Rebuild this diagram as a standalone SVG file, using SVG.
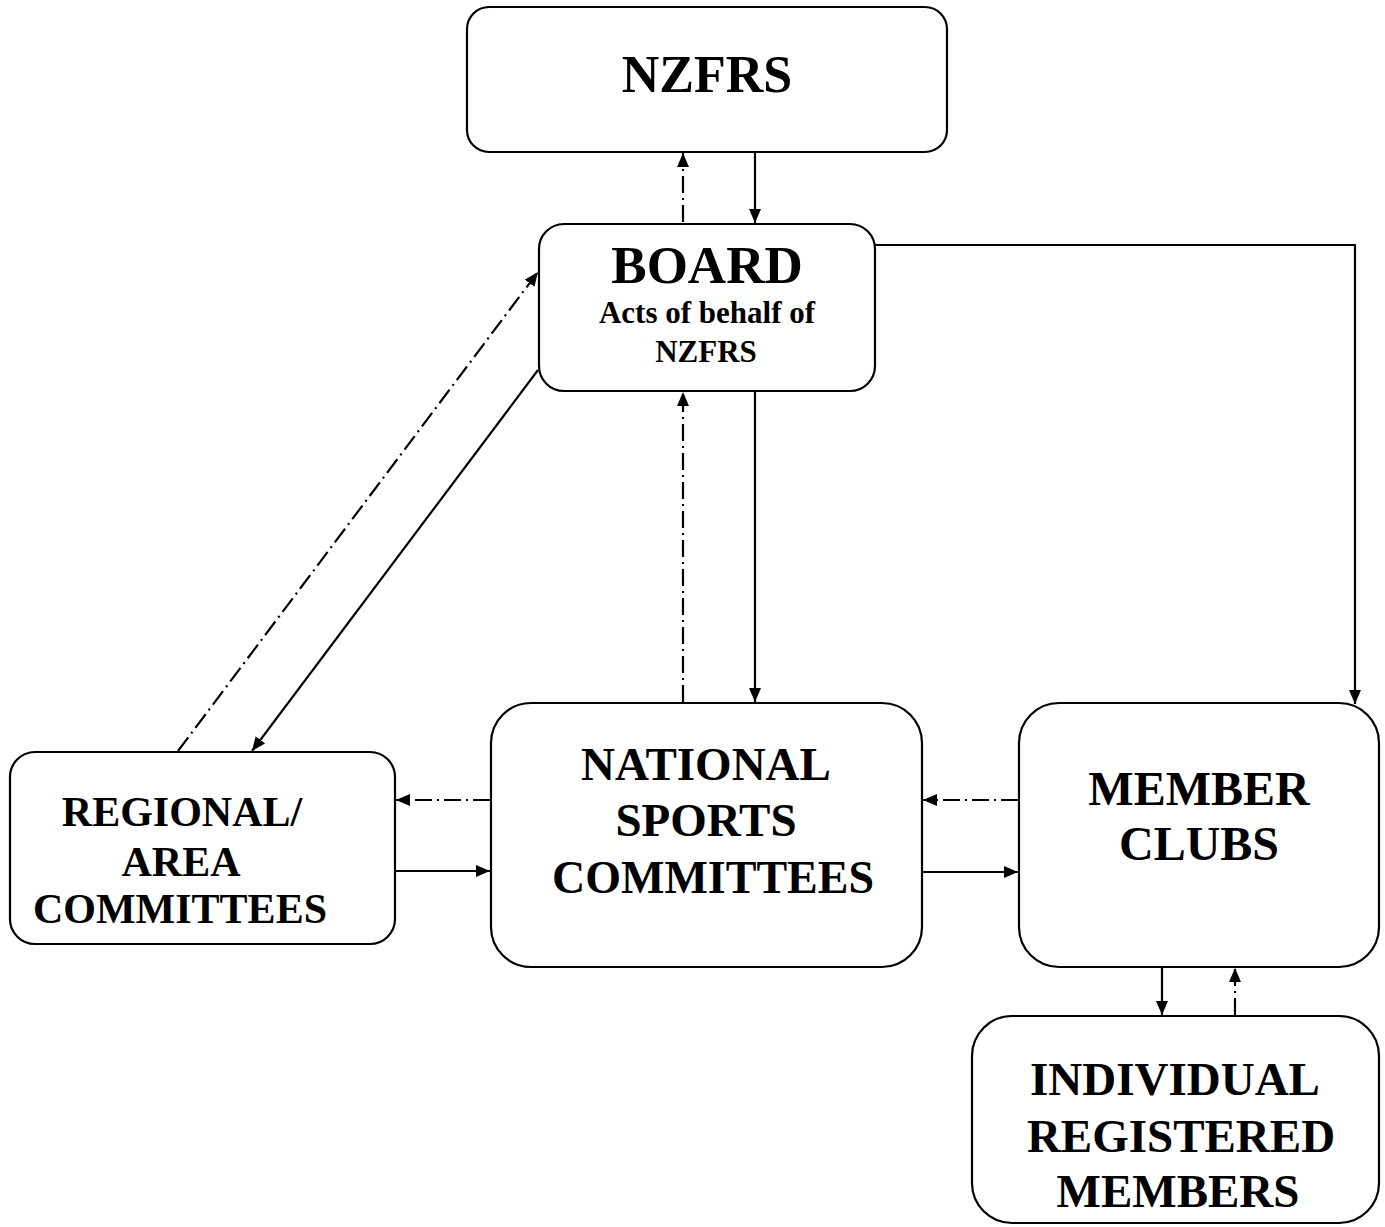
<svg xmlns="http://www.w3.org/2000/svg" width="1385" height="1227" viewBox="0 0 1385 1227">
<style>
.box{fill:#fff;stroke:#000;stroke-width:2.2}
.t{font-family:"Liberation Serif","Times New Roman",serif;font-weight:bold;fill:#000;text-anchor:middle}
.ln{fill:none;stroke:#000;stroke-width:2.2}
.dd{fill:none;stroke:#000;stroke-width:2.2;stroke-dasharray:17,5,2,5}
</style>
<defs>
<marker id="ah" markerUnits="userSpaceOnUse" markerWidth="14" markerHeight="12" viewBox="0 0 14 12" refX="14" refY="6" orient="auto">
<path d="M0,0 L14,6 L0,12 Z" fill="#000"/>
</marker>
</defs>
<rect width="1385" height="1227" fill="#fff"/>
<g id="connectors">
<line class="dd" x1="683" y1="222" x2="683" y2="153" marker-end="url(#ah)"/>
<line class="ln" x1="755" y1="152" x2="755" y2="223" marker-end="url(#ah)"/>
<polyline class="ln" points="875,245 1355,245 1355,704" marker-end="url(#ah)"/>
<line class="dd" x1="683" y1="702" x2="683" y2="392" marker-end="url(#ah)"/>
<line class="ln" x1="755" y1="391" x2="755" y2="702" marker-end="url(#ah)"/>
<line class="dd" x1="178" y1="751" x2="538" y2="272" marker-end="url(#ah)"/>
<line class="ln" x1="538" y1="370" x2="252" y2="751" marker-end="url(#ah)"/>
<line class="dd" x1="490" y1="800" x2="396" y2="800" marker-end="url(#ah)"/>
<line class="ln" x1="395" y1="871" x2="490" y2="871" marker-end="url(#ah)"/>
<line class="dd" x1="1018" y1="800" x2="923" y2="800" marker-end="url(#ah)"/>
<line class="ln" x1="922" y1="872" x2="1018" y2="872" marker-end="url(#ah)"/>
<line class="ln" x1="1162" y1="967" x2="1162" y2="1015" marker-end="url(#ah)"/>
<line class="dd" x1="1235" y1="1015" x2="1235" y2="968" marker-end="url(#ah)"/>
</g>
<g id="nzfrs">
<rect class="box" x="467" y="7" width="480" height="145" rx="22"/>
<text class="t" x="707" y="92" font-size="52">NZFRS</text>
</g>
<g id="board">
<rect class="box" x="539" y="224" width="336" height="167" rx="25"/>
<text class="t" x="707" y="283" font-size="53">BOARD</text>
<text class="t" x="707" y="323" font-size="31">Acts of behalf of</text>
<text class="t" x="706" y="362" font-size="31">NZFRS</text>
</g>
<g id="regional">
<rect class="box" x="10" y="752" width="385" height="192" rx="25"/>
<text class="t" x="182" y="826" font-size="42">REGIONAL/</text>
<text class="t" x="181" y="876" font-size="42">AREA</text>
<text class="t" x="180" y="923" font-size="42">COMMITTEES</text>
</g>
<g id="nsc">
<rect class="box" x="491" y="703" width="431" height="264" rx="40"/>
<text class="t" x="706" y="780" font-size="47">NATIONAL</text>
<text class="t" x="706" y="836" font-size="47">SPORTS</text>
<text class="t" x="713" y="893" font-size="46">COMMITTEES</text>
</g>
<g id="clubs">
<rect class="box" x="1019" y="703" width="360" height="264" rx="40"/>
<text class="t" x="1199" y="805" font-size="48">MEMBER</text>
<text class="t" x="1199" y="860" font-size="48">CLUBS</text>
</g>
<g id="members">
<rect class="box" x="972" y="1016" width="407" height="207" rx="40"/>
<text class="t" x="1175" y="1095" font-size="47">INDIVIDUAL</text>
<text class="t" x="1181" y="1152" font-size="47">REGISTERED</text>
<text class="t" x="1178" y="1207" font-size="47">MEMBERS</text>
</g>
</svg>
